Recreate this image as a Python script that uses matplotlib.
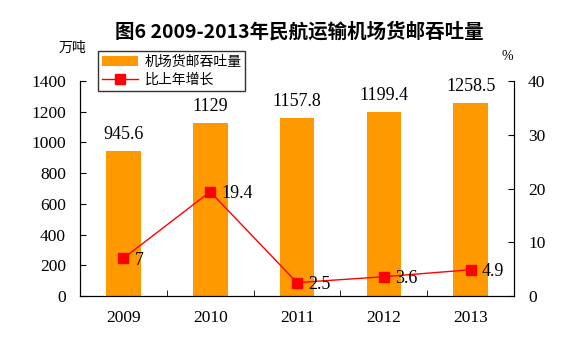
import numpy as np
import matplotlib.pyplot as plt

plt.rcParams['font.family'] = ['Liberation Serif', 'Noto Sans CJK SC']

# data
years = ['2009', '2010', '2011', '2012', '2013']
volume = [945.6, 1129, 1157.8, 1199.4, 1258.5]
growth = [7, 19.4, 2.5, 3.6, 4.9]
volume_labels = ['945.6', '1129', '1157.8', '1199.4', '1258.5']
growth_labels = ['7', '19.4', '2.5', '3.6', '4.9']

BAR_COLOR = '#FF9900'
LINE_COLOR = '#FF0000'
CJK = ['Noto Sans CJK SC', 'DejaVu Sans']

fig = plt.figure(figsize=(5.87, 3.55), dpi=100)
ax = fig.add_axes([0.136, 0.166, 0.740, 0.606])
x = np.arange(len(years))

bars = ax.bar(x, volume, width=0.4, color=BAR_COLOR, label='机场货邮吞吐量', zorder=2)
ax.set_xlim(-0.5, len(years) - 0.5)
ax.set_ylim(0, 1400)
ax.set_yticks(np.arange(0, 1401, 200))
ax.set_xticks(x)
ax.set_xticklabels(years)
ax.set_xticks(np.arange(-0.5, len(years)), minor=True)
ax.tick_params(axis='x', which='major', length=0, labelsize=12.5, pad=10)
ax.tick_params(axis='x', which='minor', direction='in', length=4)
ax.tick_params(axis='y', direction='in', length=4, labelsize=12.5, pad=10)
ax.spines['top'].set_visible(False)

# bar value labels
for xi, v, s in zip(x, volume, volume_labels):
    ax.text(xi, v + 50, s, ha='center', va='bottom', fontsize=13)

ax2 = ax.twinx()
line, = ax2.plot(x, growth, color=LINE_COLOR, lw=1, marker='s', markersize=7,
                 label='比上年增长', zorder=3)
ax2.set_ylim(0, 40)
ax2.set_yticks(np.arange(0, 41, 10))
ax2.tick_params(axis='y', direction='in', length=4, labelsize=12.5, pad=10)
ax2.spines['top'].set_visible(False)

# growth labels right of markers
for xi, g, s in zip(x, growth, growth_labels):
    ax2.text(xi + 0.13, g - 0.4, s, ha='left', va='center', fontsize=13)

leg = fig.legend([bars, line], ['机场货邮吞吐量', '比上年增长'],
                 loc='upper left', bbox_to_anchor=(0.167, 0.855),
                 prop={'family': CJK, 'size': 10}, frameon=True, fancybox=False,
                 edgecolor='black', handlelength=2.6, borderpad=0.25,
                 labelspacing=0.3, handletextpad=0.5, borderaxespad=0)
leg.get_frame().set_linewidth(1)

fig.text(0.51, 0.91, '图6 2009-2013年民航运输机场货邮吞吐量', ha='center', va='center',
         fontsize=14, fontweight='bold', family=CJK)
fig.text(0.124, 0.865, '万吨', ha='center', va='center', fontsize=10, family=CJK)
fig.text(0.864, 0.84, '%', ha='center', va='center', fontsize=10)

fig.savefig('out.png', dpi=100)
